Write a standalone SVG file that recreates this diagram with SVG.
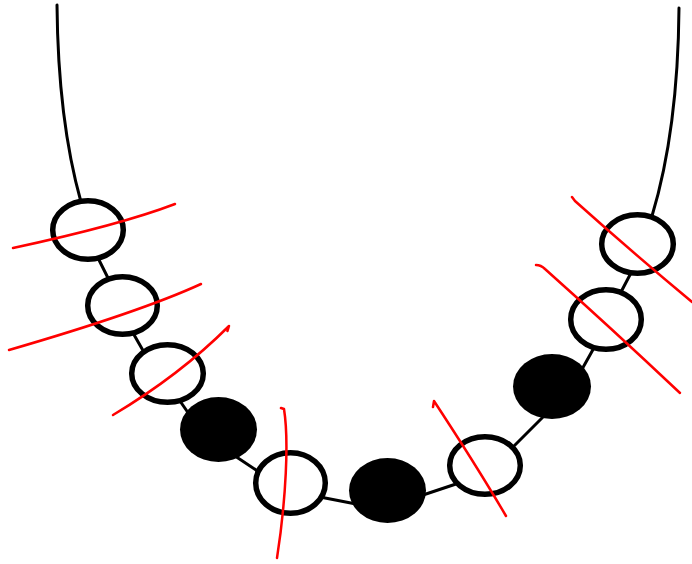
<svg xmlns="http://www.w3.org/2000/svg" width="692" height="564" viewBox="0 0 692 564">
<style>
.str{fill:none;stroke:#000;stroke-width:3;stroke-linecap:round}
.w{fill:#fff;stroke:#000;stroke-width:5.5}
.b{fill:#000;stroke:none}
.red{fill:none;stroke:#f00;stroke-width:2.5;stroke-linecap:round;stroke-linejoin:round}
</style>
<rect width="692" height="564" fill="#fff"/>
<g id="connectors">
<path class="str" d="M57,5 Q58,120 81,202"/>
<path class="str" d="M679,8 Q678,130 652,216"/>
<line class="str" x1="98" y1="258" x2="109" y2="280"/>
<line class="str" x1="133" y1="333" x2="145" y2="354"/>
<line class="str" x1="180" y1="401" x2="191" y2="417"/>
<line class="str" x1="235" y1="456" x2="259" y2="472"/>
<line class="str" x1="320" y1="497" x2="356" y2="504"/>
<line class="str" x1="420" y1="496" x2="459" y2="483"/>
<line class="str" x1="512" y1="448" x2="545" y2="415"/>
<line class="str" x1="581" y1="371" x2="595" y2="346"/>
<line class="str" x1="621" y1="292" x2="632" y2="271"/>
</g>
<g id="bead1"><ellipse class="w" cx="88" cy="230" rx="35.3" ry="29.3"/></g>
<g id="bead2"><ellipse class="w" cx="122.5" cy="305.5" rx="34.8" ry="28.8"/></g>
<g id="bead3"><ellipse class="w" cx="167.5" cy="373.5" rx="35.8" ry="28.8"/></g>
<g id="bead4"><ellipse class="b" cx="218.5" cy="429.5" rx="38.5" ry="32.5"/></g>
<g id="bead5"><ellipse class="w" cx="290.5" cy="483" rx="34.8" ry="30.3"/></g>
<g id="bead6"><ellipse class="b" cx="387.5" cy="490.5" rx="38.5" ry="32.5"/></g>
<g id="bead7"><ellipse class="w" cx="485" cy="465.5" rx="35.3" ry="28.8"/></g>
<g id="bead8"><ellipse class="b" cx="552" cy="386.5" rx="39" ry="32.5"/></g>
<g id="bead9"><ellipse class="w" cx="606" cy="319.5" rx="35.3" ry="29.8"/></g>
<g id="bead10"><ellipse class="w" cx="637.5" cy="244" rx="35.8" ry="29.3"/></g>
<g id="strikes">
<path class="red" d="M13,248 Q120,225 175,204"/>
<path class="red" d="M9,350 Q140,312 201,284"/>
<path class="red" d="M113,415 Q180,375 229,326 l-1.5,5"/>
<path class="red" d="M281,408 L284,409 C289,440 286,500 277,558"/>
<path class="red" d="M433,407 L434,401 Q478,468 506,516"/>
<path class="red" d="M536,265 Q541,265 545,269 Q610,327 680,393"/>
<path class="red" d="M572,197 l3,4 Q632,252 692,302"/>
</g>
</svg>
